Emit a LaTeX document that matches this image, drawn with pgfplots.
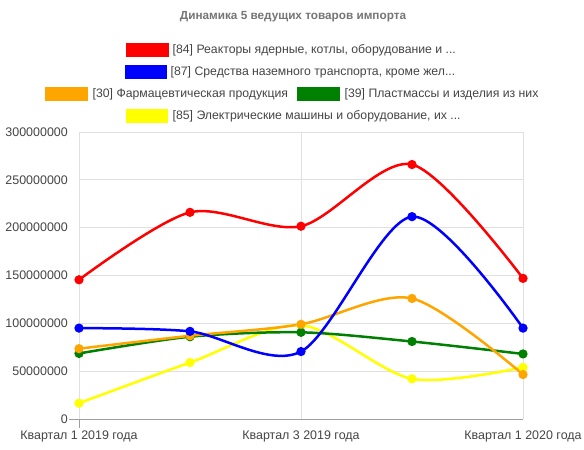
\documentclass[border=0pt]{standalone}
\usepackage{pgfplots}
\pgfplotsset{compat=1.18}
\usepackage{fontspec}
\setmainfont{Liberation Sans}
\definecolor{txt}{HTML}{444444}
\definecolor{ttl}{HTML}{757575}
\definecolor{gridc}{HTML}{E0E0E0}
\definecolor{basec}{HTML}{9E9E9E}
\definecolor{cred}{HTML}{FF0000}
\definecolor{cblue}{HTML}{0000FF}
\definecolor{corange}{HTML}{FFA500}
\definecolor{cgreen}{HTML}{008000}
\definecolor{cyellow}{HTML}{FFFF00}
\begin{document}
\begin{tikzpicture}[x=1bp,y=1bp]
\path[use as bounding box] (0,0) rectangle (584,450);
\node[font=\bfseries\fontsize{11.8}{14}\selectfont, text=ttl] at (293,433) {Динамика 5 ведущих товаров импорта};
% legend
\tikzset{lt/.style={anchor=west, inner sep=0pt, font=\fontsize{12.3}{14}\selectfont, text=txt}}
\fill[cred] (126,393) rectangle (169,407);
\node[lt] at (172.5,400) {[84] Реакторы ядерные, котлы, оборудование и ...};
\fill[cblue] (125,371) rectangle (167,385);
\node[lt] at (170.5,378) {[87] Средства наземного транспорта, кроме жел...};
\fill[corange] (45,349) rectangle (88,363);
\node[lt] at (92.5,356) {[30] Фармацевтическая продукция};
\fill[cgreen] (297,349) rectangle (340,363);
\node[lt] at (344.5,356) {[39] Пластмассы и изделия из них};
\fill[cyellow] (126,327) rectangle (168,341);
\node[lt] at (172.5,334) {[85] Электрические машины и оборудование, их ...};
\begin{axis}[
  at={(79bp,31bp)}, anchor=south west,
  scale only axis, width=444bp, height=287bp,
  xmin=0, xmax=4, ymin=0, ymax=300000000,
  xtick={0,2,4},
  xticklabels={Квартал 1 2019 года, Квартал 3 2019 года, Квартал 1 2020 года},
  ytick={0,50000000,100000000,150000000,200000000,250000000,300000000},
  scaled y ticks=false,
  /pgf/number format/assume math mode=true,
  yticklabel style={/pgf/number format/fixed, /pgf/number format/precision=0, /pgf/number format/1000 sep={}, inner sep=0pt, anchor=east, xshift=-11bp},
  xticklabel style={inner sep=0pt, anchor=north, yshift=-12bp},
  ticklabel style={font=\fontsize{12.5}{14}\selectfont, text=txt},
  grid=major, grid style={color=gridc, line width=0.8bp},
  axis line style={draw=none}, major tick style={draw=none},
  clip=false,
]
\addplot[smooth, line width=2.5bp, color=cyellow, mark=*, mark size=3.3bp] coordinates {(0,16500000) (1,59000000) (2,98000000) (3,42000000) (4,54000000)};
\addplot[smooth, line width=2.5bp, color=cgreen, mark=*, mark size=3.3bp] coordinates {(0,68500000) (1,86000000) (2,90600000) (3,81000000) (4,68000000)};
\addplot[smooth, line width=2.5bp, color=corange, mark=*, mark size=3.3bp] coordinates {(0,73500000) (1,87000000) (2,99000000) (3,126000000) (4,46500000)};
\addplot[smooth, line width=2.5bp, color=cblue, mark=*, mark size=3.3bp] coordinates {(0,95000000) (1,91600000) (2,70500000) (3,211500000) (4,95000000)};
\addplot[smooth, line width=2.5bp, color=cred, mark=*, mark size=3.3bp] coordinates {(0,145500000) (1,216000000) (2,201500000) (3,266000000) (4,147000000)};
\end{axis}
\draw[basec, line width=0.8bp] (69,31) -- (523,31);
\draw[basec, line width=0.8bp] (79,31) -- (79,22);
\end{tikzpicture}
\end{document}
